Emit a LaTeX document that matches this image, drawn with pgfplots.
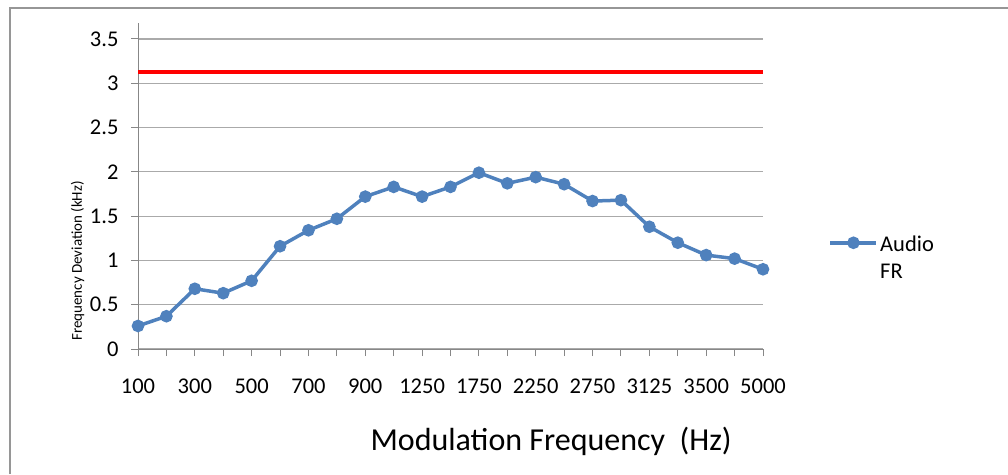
\documentclass[border=0pt]{standalone}
\usepackage{pgfplots}
\pgfplotsset{compat=1.18}
\usepackage{fontspec}
\setmainfont{Carlito}
\definecolor{excelblue}{RGB}{79,129,189}
\definecolor{gridgray}{RGB}{170,170,170}
\definecolor{axgray}{RGB}{135,135,135}
\definecolor{framegray}{RGB}{150,150,150}

\begin{document}
\begin{tikzpicture}[x=1pt,y=1pt]
\useasboundingbox (0,0) rectangle (1008,474);
% chart frame (left and top edges only are visible)
\draw[framegray, line width=2pt] (10,0) -- (10,466) -- (1008,466);
\begin{axis}[
  at={(138pt,125pt)}, anchor=south west,
  scale only axis, width=625pt, height=326pt,
  xmin=0, xmax=22, ymin=0, ymax=3.68,
  axis lines*=left,
  axis line style={-, axgray, line width=1pt},
  xtick={0,...,22},
  xticklabels={100,,300,,500,,700,,900,,1250,,1750,,2250,,2750,,3125,,3500,,5000},
  ytick={0,0.5,...,3.5},
  tick align=outside, major tick length=7pt,
  tick style={axgray, line width=1pt},
  ymajorgrids, grid style={gridgray, line width=1.2pt},
  /pgf/number format/assume math mode=true,
  ticklabel style={font=\fontsize{22.5}{27}\selectfont},
  yticklabel style={xshift=-9pt},
  xticklabel style={yshift=-19pt},
  xlabel={Modulation Frequency~ (Hz)},
  xlabel style={font=\fontsize{32}{38}\selectfont, at={(axis description cs:0.661,-0.282)}, anchor=center},
  ylabel={Frequency Deviation (kHz)},
  ylabel style={font=\fontsize{15}{18}\selectfont, at={(axis description cs:-0.0968,0.27)}, anchor=center},
  legend style={draw=none, at={(axis description cs:1.1,0.37)}, anchor=north west,
    font=\fontsize{22.5}{27}\selectfont},
  legend image code/.code={\draw[mark repeat=2,mark phase=2] plot coordinates {(0pt,0pt) (23pt,0pt) (46pt,0pt)};},
]
\addplot[red, line width=4pt, forget plot] coordinates {(0,3.125) (22,3.125)};
\addplot[excelblue, line width=3.5pt, mark=*, mark size=4.5pt, mark options={solid}] coordinates {
(0,0.26) (1,0.37) (2,0.68) (3,0.63) (4,0.77) (5,1.16) (6,1.34) (7,1.47)
(8,1.72) (9,1.83) (10,1.72) (11,1.83) (12,1.99) (13,1.87) (14,1.94) (15,1.86)
(16,1.67) (17,1.68) (18,1.38) (19,1.20) (20,1.06) (21,1.02) (22,0.90)};
\addlegendentry{\begin{tabular}[t]{@{}l@{}}Audio\\FR\end{tabular}}
\end{axis}
\end{tikzpicture}
\end{document}
